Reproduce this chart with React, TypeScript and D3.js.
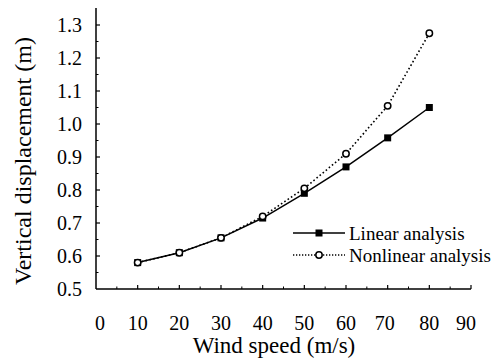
import React, { useEffect, useRef } from "react";
import * as d3 from "d3";

const windSpeed = [10, 20, 30, 40, 50, 60, 70, 80];
const linear = [0.58, 0.61, 0.655, 0.715, 0.79, 0.87, 0.958, 1.05];
const nonlinear = [0.58, 0.61, 0.655, 0.72, 0.805, 0.91, 1.055, 1.275];
const xTicks = [0, 10, 20, 30, 40, 50, 60, 70, 80, 90];
const yTicks = [0.5, 0.6, 0.7, 0.8, 0.9, 1.0, 1.1, 1.2, 1.3];

export default function App() {
  const ref = useRef<SVGSVGElement>(null);

  useEffect(() => {
    const svg = d3.select(ref.current);
    svg.selectAll("*").remove();

    const x = d3.scaleLinear().domain([0, 90]).range([96, 471]);
    const y = d3.scaleLinear().domain([0.5, 1.3]).range([289, 25]);

    // axes lines
    svg.append("line")
      .attr("x1", x(0)).attr("x2", x(0))
      .attr("y1", 8).attr("y2", y(0.5))
      .attr("stroke", "#000").attr("stroke-width", 1.5);
    svg.append("line")
      .attr("x1", x(0)).attr("x2", x(90))
      .attr("y1", y(0.5)).attr("y2", y(0.5))
      .attr("stroke", "#000").attr("stroke-width", 1.5);

    // y ticks (major + minor, inward)
    const yMinor = d3.range(0.55, 1.34, 0.1);
    svg.append("g").selectAll("line")
      .data(yTicks.slice(1))
      .join("line")
      .attr("x1", x(0)).attr("x2", x(0) + 4)
      .attr("y1", (d) => y(d)).attr("y2", (d) => y(d))
      .attr("stroke", "#000").attr("stroke-width", 1.2);
    svg.append("g").selectAll("line")
      .data(yMinor)
      .join("line")
      .attr("x1", x(0)).attr("x2", x(0) + 2.5)
      .attr("y1", (d) => y(d)).attr("y2", (d) => y(d))
      .attr("stroke", "#000").attr("stroke-width", 1);

    // x ticks
    svg.append("g").selectAll("line")
      .data(xTicks.slice(1))
      .join("line")
      .attr("x1", (d) => x(d)).attr("x2", (d) => x(d))
      .attr("y1", y(0.5)).attr("y2", y(0.5) - 4)
      .attr("stroke", "#000").attr("stroke-width", 1.2);
    svg.append("g").selectAll("line")
      .data(d3.range(5, 90, 10))
      .join("line")
      .attr("x1", (d) => x(d)).attr("x2", (d) => x(d))
      .attr("y1", y(0.5)).attr("y2", y(0.5) - 2.5)
      .attr("stroke", "#000").attr("stroke-width", 1);

    // tick labels
    svg.append("g").selectAll("text")
      .data(yTicks)
      .join("text")
      .attr("x", 82).attr("y", (d) => y(d))
      .attr("dy", "0.35em")
      .attr("text-anchor", "end")
      .attr("font-size", 20)
      .text((d) => d.toFixed(1));
    const xShift: Record<number, number> = { 0: 4, 70: -3, 90: -5 };
    svg.append("g").selectAll("text")
      .data(xTicks)
      .join("text")
      .attr("x", (d) => x(d) + (xShift[d] || 0)).attr("y", 323)
      .attr("dy", "0.35em")
      .attr("text-anchor", "middle")
      .attr("font-size", 20)
      .text((d) => String(d));

    // axis titles
    svg.append("text")
      .attr("x", 274).attr("y", 353)
      .attr("text-anchor", "middle")
      .attr("font-size", 23)
      .text("Wind speed (m/s)");
    svg.append("text")
      .attr("transform", "translate(31,161) rotate(-90)")
      .attr("text-anchor", "middle")
      .attr("font-size", 24)
      .text("Vertical displacement (m)");

    const line = d3.line<number>()
      .x((_, i) => x(windSpeed[i]))
      .y((d) => y(d));

    // nonlinear (dotted, open circles)
    svg.append("path")
      .datum(nonlinear)
      .attr("fill", "none").attr("stroke", "#000")
      .attr("stroke-width", 1.6)
      .attr("stroke-dasharray", "1.6,2.4")
      .attr("d", line);
    // linear (solid, filled squares)
    svg.append("path")
      .datum(linear)
      .attr("fill", "none").attr("stroke", "#000")
      .attr("stroke-width", 1.5)
      .attr("d", line);

    svg.append("g").selectAll("rect")
      .data(linear)
      .join("rect")
      .attr("x", (_, i) => x(windSpeed[i]) - 3.5)
      .attr("y", (d) => y(d) - 3.5)
      .attr("width", 7).attr("height", 7)
      .attr("fill", "#000");
    svg.append("g").selectAll("circle")
      .data(nonlinear)
      .join("circle")
      .attr("cx", (_, i) => x(windSpeed[i]))
      .attr("cy", (d) => y(d))
      .attr("r", 3.2)
      .attr("fill", "#fff").attr("stroke", "#000").attr("stroke-width", 1.5);

    // legend
    const lg = svg.append("g");
    lg.append("line")
      .attr("x1", 293).attr("x2", 345).attr("y1", 233).attr("y2", 233)
      .attr("stroke", "#000").attr("stroke-width", 1.5);
    lg.append("rect")
      .attr("x", 315.5).attr("y", 229.5).attr("width", 7).attr("height", 7)
      .attr("fill", "#000");
    lg.append("text")
      .attr("x", 349).attr("y", 233).attr("dy", "0.35em")
      .attr("font-size", 19)
      .text("Linear analysis");
    lg.append("line")
      .attr("x1", 293).attr("x2", 345).attr("y1", 255).attr("y2", 255)
      .attr("stroke", "#000").attr("stroke-width", 1.3)
      .attr("stroke-dasharray", "1.3,1.7");
    lg.append("circle")
      .attr("cx", 319).attr("cy", 255).attr("r", 3.2)
      .attr("fill", "#fff").attr("stroke", "#000").attr("stroke-width", 1.5);
    lg.append("text")
      .attr("x", 349).attr("y", 255).attr("dy", "0.35em")
      .attr("font-size", 19)
      .text("Nonlinear analysis");
  }, []);

  return (
    <svg
      ref={ref}
      width={491}
      height={364}
      style={{
        position: "absolute",
        left: 0,
        top: 0,
        background: "#fff",
        fontFamily: "'Liberation Serif', 'DejaVu Serif', serif",
      }}
    />
  );
}
